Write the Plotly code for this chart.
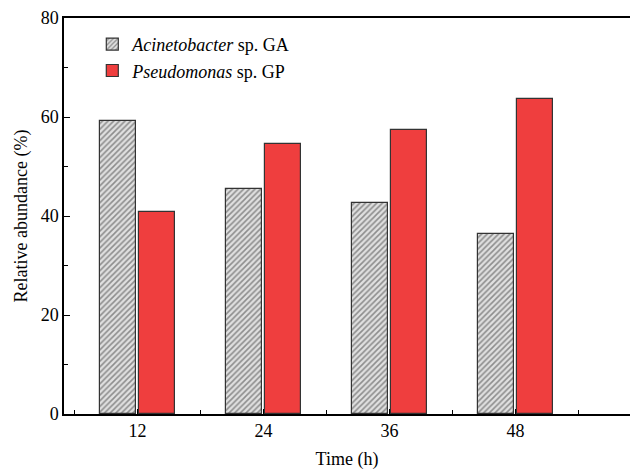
import plotly.graph_objects as go

times = [12, 24, 36, 48]
acinetobacter = [59.1, 45.5, 42.7, 36.4]
pseudomonas = [40.9, 54.5, 57.3, 63.6]
series_names = ["<i>Acinetobacter</i> sp. GA", "<i>Pseudomonas</i> sp. GP"]

FONT = "Liberation Serif"

fig = go.Figure()
fig.add_trace(go.Bar(
    x=times, y=acinetobacter, name=series_names[0],
    width=3.45, offset=-3.6,
    marker=dict(color="#e0e0e0", line=dict(color="#333333", width=1.2),
                pattern=dict(shape="/", fgcolor="#3a3a3a", bgcolor="#e0e0e0",
                             size=4, solidity=0.4)),
))
fig.add_trace(go.Bar(
    x=times, y=pseudomonas, name=series_names[1],
    width=3.45, offset=0.15,
    marker=dict(color="#ef3e3e", line=dict(color="#333333", width=1.2)),
))

fig.update_layout(
    width=630, height=470,
    margin=dict(l=64, r=0, t=18, b=56),
    plot_bgcolor="white", paper_bgcolor="white",
    font=dict(family=FONT, size=17, color="black"),
    showlegend=True,
    legend=dict(x=0.05, y=0.98, xanchor="left", yanchor="top",
                bgcolor="rgba(0,0,0,0)", font=dict(family=FONT, size=18),
                tracegroupgap=0, itemwidth=30),
    bargap=0,
)
fig.update_xaxes(
    range=[5, 58.9], tickmode="array", tickvals=times, ticktext=[str(t) for t in times],
    showline=True, linecolor="black", linewidth=1.5, mirror=True,
    ticks="inside", ticklen=5, tickcolor="black",
    minor=dict(tickmode="array", tickvals=[6, 18, 30, 42, 54], ticks="inside", ticklen=4, tickcolor="black"),
    showgrid=False, zeroline=False,
    title=dict(text="Time (h)", font=dict(family=FONT, size=18), standoff=14),
    tickfont=dict(family=FONT, size=18),
)
fig.update_yaxes(
    range=[0, 80], dtick=20, tick0=0,
    showline=True, linecolor="black", linewidth=1.5, mirror=False,
    ticks="inside", ticklen=6, tickcolor="black",
    minor=dict(dtick=10, ticks="inside", ticklen=4, tickcolor="black"),
    showgrid=False, zeroline=False,
    title=dict(text="Relative abundance (%)", font=dict(family=FONT, size=18), standoff=8),
    tickfont=dict(family=FONT, size=18),
)

fig.write_html("out.html")
